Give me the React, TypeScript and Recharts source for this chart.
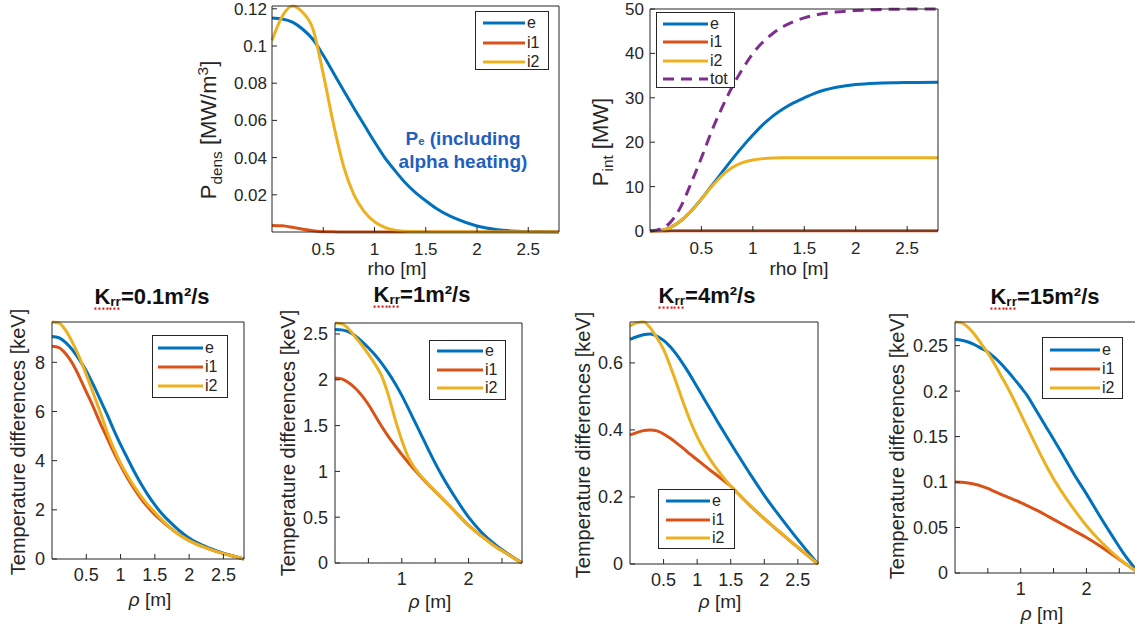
import React from 'react';
import { LineChart, Line, XAxis, YAxis, Legend } from 'recharts';

// ---------- data ----------
const rho = [0, 0.1, 0.2, 0.3, 0.4, 0.5, 0.6, 0.7, 0.8, 0.9, 1.0, 1.1, 1.2, 1.3, 1.4, 1.5, 1.6, 1.8, 2.0, 2.2, 2.4, 2.6, 2.8];

// Power density [MW/m^3]
const densE = [0.1150, 0.1145, 0.1128, 0.1090, 0.1035, 0.0950, 0.0855, 0.0760, 0.0665, 0.0575, 0.0485, 0.0400, 0.0330, 0.0265, 0.0212, 0.0168, 0.0128, 0.0070, 0.0032, 0.0012, 0.0004, 0.0001, 0.0000];
const densI1 = [0.0035, 0.0033, 0.0025, 0.0015, 0.0007, 0.0002, 0.0001, 0, 0, 0, 0, 0, 0, 0, 0, 0, 0, 0, 0, 0, 0, 0, 0];
const densI2 = [0.1030, 0.1160, 0.1215, 0.1180, 0.1090, 0.0850, 0.0580, 0.0350, 0.0200, 0.0110, 0.0055, 0.0025, 0.0010, 0.0004, 0.0001, 0, 0, 0, 0, 0, 0, 0, 0];

// Integrated power [MW]
const intE = [0, 0.1, 0.8, 2.3, 4.5, 7.2, 10.2, 13.2, 16.2, 19.0, 21.6, 24.0, 26.0, 27.6, 28.9, 30.0, 31.0, 32.3, 33.0, 33.3, 33.4, 33.45, 33.5];
const intI1 = [0, 0.01, 0.03, 0.05, 0.06, 0.07, 0.07, 0.07, 0.07, 0.07, 0.07, 0.07, 0.07, 0.07, 0.07, 0.07, 0.07, 0.07, 0.07, 0.07, 0.07, 0.07, 0.07];
const intI2 = [0, 0.1, 0.8, 2.3, 4.5, 7.2, 10.0, 12.5, 14.3, 15.4, 16.0, 16.3, 16.45, 16.5, 16.5, 16.5, 16.5, 16.5, 16.5, 16.5, 16.5, 16.5, 16.5];
const intTot = [0, 0.4, 2.0, 5.5, 10.8, 16.5, 22.5, 27.8, 32.5, 36.5, 40.0, 42.6, 44.6, 46.1, 47.2, 48.0, 48.6, 49.3, 49.65, 49.85, 49.95, 50, 50];

// Temperature differences [keV], K = 0.1 m2/s
const k01E = [9.05, 9.00, 8.80, 8.50, 8.10, 7.65, 7.10, 6.50, 5.90, 5.25, 4.65, 4.10, 3.55, 3.05, 2.60, 2.20, 1.85, 1.30, 0.85, 0.55, 0.33, 0.15, 0];
const k01I1 = [8.65, 8.60, 8.35, 7.95, 7.40, 6.80, 6.20, 5.55, 4.95, 4.35, 3.80, 3.30, 2.85, 2.45, 2.10, 1.80, 1.55, 1.10, 0.75, 0.50, 0.30, 0.15, 0];
const k01I2 = [9.64, 9.60, 9.30, 8.80, 8.20, 7.50, 6.75, 6.00, 5.20, 4.50, 3.90, 3.40, 2.95, 2.55, 2.20, 1.90, 1.60, 1.10, 0.75, 0.50, 0.30, 0.15, 0];

// K = 1 m2/s
const k1E = [2.55, 2.545, 2.525, 2.48, 2.42, 2.35, 2.27, 2.18, 2.075, 1.96, 1.83, 1.685, 1.535, 1.385, 1.235, 1.09, 0.955, 0.715, 0.50, 0.33, 0.20, 0.095, 0];
const k1I1 = [2.02, 2.01, 1.97, 1.91, 1.83, 1.73, 1.61, 1.49, 1.38, 1.28, 1.185, 1.095, 1.01, 0.93, 0.855, 0.78, 0.71, 0.56, 0.41, 0.29, 0.18, 0.09, 0];
const k1I2 = [2.62, 2.61, 2.56, 2.47, 2.38, 2.28, 2.17, 2.04, 1.83, 1.57, 1.34, 1.15, 1.03, 0.94, 0.86, 0.785, 0.71, 0.56, 0.41, 0.29, 0.18, 0.09, 0];

// K = 4 m2/s
const k4E = [0.670, 0.678, 0.684, 0.686, 0.680, 0.667, 0.648, 0.623, 0.594, 0.562, 0.528, 0.494, 0.460, 0.426, 0.393, 0.360, 0.328, 0.265, 0.205, 0.150, 0.098, 0.048, 0];
const k4I1 = [0.385, 0.392, 0.398, 0.400, 0.397, 0.388, 0.375, 0.360, 0.344, 0.327, 0.311, 0.295, 0.279, 0.264, 0.248, 0.232, 0.212, 0.172, 0.135, 0.100, 0.066, 0.033, 0];
const k4I2 = [0.710, 0.720, 0.722, 0.705, 0.675, 0.640, 0.590, 0.535, 0.478, 0.425, 0.380, 0.342, 0.310, 0.282, 0.256, 0.233, 0.212, 0.173, 0.136, 0.101, 0.067, 0.034, 0];

// K = 15 m2/s
const k15E = [0.257, 0.256, 0.254, 0.251, 0.247, 0.243, 0.237, 0.230, 0.222, 0.2135, 0.2045, 0.195, 0.183, 0.171, 0.159, 0.147, 0.135, 0.110, 0.087, 0.063, 0.040, 0.018, 0];
const k15I1 = [0.100, 0.0998, 0.099, 0.0975, 0.0955, 0.093, 0.0897, 0.0865, 0.0835, 0.0805, 0.0775, 0.074, 0.0705, 0.067, 0.063, 0.059, 0.055, 0.047, 0.039, 0.030, 0.020, 0.010, 0];
const k15I2 = [0.276, 0.275, 0.270, 0.262, 0.252, 0.242, 0.230, 0.217, 0.204, 0.190, 0.175, 0.160, 0.145, 0.1305, 0.1165, 0.1035, 0.092, 0.071, 0.052, 0.036, 0.022, 0.010, 0];

// ticks
const xTicks = [0.5, 1, 1.5, 2, 2.5];
const yTicksDens = [0.02, 0.04, 0.06, 0.08, 0.1, 0.12];
const yTicksInt = [0, 10, 20, 30, 40, 50];
const yTicksK01 = [0, 2, 4, 6, 8];
const yTicksK1 = [0, 0.5, 1, 1.5, 2, 2.5];
const yTicksK4 = [0, 0.2, 0.4, 0.6];
const yTicksK15 = [0, 0.05, 0.1, 0.15, 0.2, 0.25];

const titles = ['0.1', '1', '4', '15'];

// ---------- styling ----------
const FONT = '"Liberation Sans", Arial, Helvetica, sans-serif';
const AX = '#262626';
const C_E = '#0072BD';
const C_I1 = '#D95319';
const C_I2 = '#EDB120';
const C_TOT = '#7E2F8E';
const XMAX = 2.8;

type Ser = { key: string; name: string; color: string; dash?: string };
type Box = { x: number; y: number; w: number; h: number; row0: number; rowH: number; lx: number; len: number };

const SER3: Ser[] = [
  { key: 'e', name: 'e', color: C_E },
  { key: 'i1', name: 'i1', color: C_I1 },
  { key: 'i2', name: 'i2', color: C_I2 },
];
const SER4: Ser[] = [...SER3, { key: 'tot', name: 'tot', color: C_TOT, dash: '11 7' }];

function makeRows(cols: Record<string, number[]>) {
  return rho.map((x, i) => {
    const r: Record<string, number> = { x };
    Object.keys(cols).forEach((k) => {
      r[k] = cols[k][i];
    });
    return r;
  });
}

const numFmt = (v: number) => String(parseFloat(Number(v).toFixed(4)));
const intOnlyFmt = (v: number) => (Number.isInteger(v) ? String(v) : '');

type PanelProps = {
  rows: Record<string, number>[];
  series: Ser[];
  L: number; T: number; W: number; H: number;
  yMax: number;
  yTicks: number[];
  xFmt: (v: number) => string;
  fs: number;
  xGap: number;
  yGap: number;
  box: Box;
};

function Panel({ rows, series, L, T, W, H, yMax, yTicks, xFmt, fs, xGap, yGap, box }: PanelProps) {
  const CW = 1150;
  const CH = 630;
  const A = 1; // axis thickness reserved in layout
  const axisLine = { stroke: AX, strokeWidth: 1 };
  const tickStyle = { fill: AX, fontSize: fs, fontFamily: FONT };
  const legendContent = (p: any) => (
    <div
      style={{
        width: box.w,
        height: box.h,
        boxSizing: 'border-box',
        border: `1px solid ${AX}`,
        background: '#fff',
        position: 'relative',
        fontFamily: FONT,
        fontSize: 16,
        color: AX,
      }}
    >
      {(p.payload || []).map((it: any, i: number) => {
        const s = series.find((ss) => ss.key === it.dataKey);
        return (
          <div
            key={i}
            style={{
              position: 'absolute',
              left: box.lx - 1,
              top: box.row0 + i * box.rowH - 9 - 1,
              height: 18,
              display: 'flex',
              alignItems: 'center',
              whiteSpace: 'nowrap',
            }}
          >
            <svg width={box.len} height={6} style={{ display: 'block' }}>
              <line x1={0} y1={3} x2={box.len} y2={3} stroke={s ? s.color : it.color} strokeWidth={3} strokeDasharray={s?.dash} />
            </svg>
            <span style={{ marginLeft: 2, lineHeight: '18px' }}>{it.value}</span>
          </div>
        );
      })}
    </div>
  );
  return (
    <div style={{ position: 'absolute', left: 0, top: 0 }}>
      <LineChart width={CW} height={CH} data={rows} margin={{ left: L - A, top: T - A, right: CW - L - W - A, bottom: CH - T - H - A }}>
        <XAxis xAxisId="b" dataKey="x" type="number" domain={[0, XMAX]} ticks={xTicks} interval={0} height={A}
          tickSize={-5} tickMargin={xGap + 5} tickFormatter={xFmt} tick={tickStyle} axisLine={axisLine} tickLine={axisLine} />
        <XAxis xAxisId="t" orientation="top" dataKey="x" type="number" domain={[0, XMAX]} allowDataOverflow ticks={xTicks}
          interval={0} height={A} tickSize={-5} tick={false} axisLine={axisLine} tickLine={axisLine} />
        <YAxis yAxisId="l" type="number" domain={[0, yMax]} ticks={yTicks} interval={0} width={A}
          tickSize={-5} tickMargin={yGap + 5} tickFormatter={numFmt} tick={tickStyle} axisLine={axisLine} tickLine={axisLine} />
        <YAxis yAxisId="r" orientation="right" type="number" domain={[0, yMax]} allowDataOverflow ticks={yTicks}
          interval={0} width={A} tickSize={-5} tick={false} axisLine={axisLine} tickLine={axisLine} />
        {series.map((s) => (
          <Line key={s.key} xAxisId="b" yAxisId="l" dataKey={s.key} name={s.name} type="monotone" stroke={s.color}
            strokeWidth={3} strokeDasharray={s.dash} dot={false} activeDot={false} isAnimationActive={false} />
        ))}
        <Legend layout="vertical" align="center" verticalAlign="middle" content={legendContent}
          wrapperStyle={{ left: box.x, top: box.y, width: box.w, height: box.h }} />
      </LineChart>
    </div>
  );
}

type TxtProps = { x: number; y: number; rot?: boolean; size: number; bold?: boolean; color?: string; lh?: number; children: React.ReactNode };
function Txt({ x, y, rot, size, bold, color, lh, children }: TxtProps) {
  return (
    <div
      style={{
        position: 'absolute',
        left: x,
        top: y,
        transform: `translate(-50%,-50%)${rot ? ' rotate(-90deg)' : ''}`,
        fontSize: size,
        fontWeight: bold ? 'bold' : 'normal',
        color: color || AX,
        fontFamily: FONT,
        whiteSpace: 'nowrap',
        lineHeight: lh || 1.2,
        textAlign: 'center',
      }}
    >
      {children}
    </div>
  );
}

function Title({ x, y, k }: { x: number; y: number; k: string }) {
  return (
    <Txt x={x} y={y} size={22} bold color="#111">
      <span style={{ textDecoration: 'underline dotted #e02020', textUnderlineOffset: 4 }}>
        K<span style={{ fontSize: '0.62em', verticalAlign: '-0.18em' }}>rr</span>
      </span>
      ={k}m²/s
    </Txt>
  );
}

const rowsDens = makeRows({ e: densE, i1: densI1, i2: densI2 });
const rowsInt = makeRows({ e: intE, i1: intI1, i2: intI2, tot: intTot });
const rowsK01 = makeRows({ e: k01E, i1: k01I1, i2: k01I2 });
const rowsK1 = makeRows({ e: k1E, i1: k1I1, i2: k1I2 });
const rowsK4 = makeRows({ e: k4E, i1: k4I1, i2: k4I2 });
const rowsK15 = makeRows({ e: k15E, i1: k15I1, i2: k15I2 });

export default function App() {
  const tempLabel = 'Temperature differences [keV]';
  return (
    <div style={{ position: 'absolute', left: 0, top: 0, width: 1135, height: 630, overflow: 'hidden', background: '#fff' }}>
      <Panel rows={rowsDens} series={SER3} L={272} T={6} W={287} H={226} yMax={0.1215} yTicks={yTicksDens}
        xFmt={numFmt} fs={17} xGap={11} yGap={5}
        box={{ x: 475, y: 11, w: 74, h: 59, row0: 12, rowH: 19.5, lx: 8, len: 42 }} />
      <Panel rows={rowsInt} series={SER4} L={650} T={9} W={288} H={222} yMax={50} yTicks={yTicksInt}
        xFmt={numFmt} fs={17} xGap={11} yGap={6}
        box={{ x: 656, y: 12, w: 79, h: 76, row0: 12, rowH: 18.3, lx: 7, len: 45 }} />
      <Panel rows={rowsK01} series={SER3} L={52} T={322} W={192} H={237} yMax={9.64} yTicks={yTicksK01}
        xFmt={numFmt} fs={18} xGap={9} yGap={7}
        box={{ x: 152, y: 335, w: 76, h: 63, row0: 13, rowH: 19, lx: 6, len: 45 }} />
      <Panel rows={rowsK1} series={SER3} L={335} T={323} W={187} H={240} yMax={2.62} yTicks={yTicksK1}
        xFmt={intOnlyFmt} fs={18} xGap={9} yGap={7}
        box={{ x: 429, y: 340, w: 77, h: 60, row0: 11, rowH: 18.5, lx: 8, len: 46 }} />
      <Panel rows={rowsK4} series={SER3} L={630} T={322} W={188} H={242} yMax={0.722} yTicks={yTicksK4}
        xFmt={numFmt} fs={18} xGap={9} yGap={7}
        box={{ x: 658, y: 489, w: 77, h: 60, row0: 12, rowH: 18.5, lx: 8, len: 44 }} />
      <Panel rows={rowsK15} series={SER3} L={955} T={322} W={184} H={251} yMax={0.276} yTicks={yTicksK15}
        xFmt={intOnlyFmt} fs={18} xGap={9} yGap={7}
        box={{ x: 1042, y: 337, w: 81, h: 62, row0: 13, rowH: 19, lx: 8, len: 50 }} />

      {/* top panel labels */}
      <Txt x={210} y={130} rot size={22}>
        P<sub style={{ fontSize: '0.7em' }}>dens</sub> [MW/m<sup style={{ fontSize: '0.7em' }}>3</sup>]
      </Txt>
      <Txt x={603} y={142} rot size={22}>
        P<sub style={{ fontSize: '0.7em' }}>int</sub> [MW]
      </Txt>
      <Txt x={397} y={268} size={19} lh={1}>rho [m]</Txt>
      <Txt x={799} y={268} size={19} lh={1}>rho [m]</Txt>
      <Txt x={463} y={151} size={19} bold color="#1F5FBF">
        <div>P<span style={{ fontSize: '0.6em' }}>e</span> (including</div>
        <div>alpha heating)</div>
      </Txt>

      {/* bottom panels */}
      <Title x={152} y={297} k={titles[0]} />
      <Title x={422} y={295} k={titles[1]} />
      <Title x={707} y={296} k={titles[2]} />
      <Title x={1045} y={297} k={titles[3]} />

      <Txt x={18} y={442} rot size={20}>{tempLabel}</Txt>
      <Txt x={288} y={443} rot size={20}>{tempLabel}</Txt>
      <Txt x={583} y={445} rot size={20}>{tempLabel}</Txt>
      <Txt x={897} y={446} rot size={20}>{tempLabel}</Txt>

      <Txt x={150} y={600} size={19}><i>ρ</i> [m]</Txt>
      <Txt x={430} y={602} size={19}><i>ρ</i> [m]</Txt>
      <Txt x={720} y={602} size={19}><i>ρ</i> [m]</Txt>
      <Txt x={1042} y={614} size={19}><i>ρ</i> [m]</Txt>
    </div>
  );
}
